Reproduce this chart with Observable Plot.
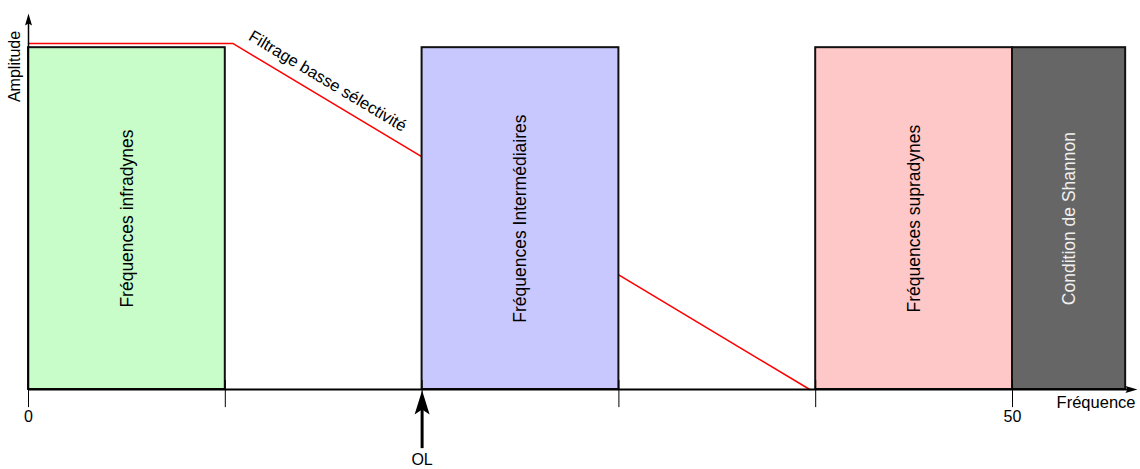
<!DOCTYPE html>
<html>
<head>
<meta charset="utf-8">
<script src="https://cdn.jsdelivr.net/npm/d3@7"></script>
<script src="https://cdn.jsdelivr.net/npm/@observablehq/plot@0.6"></script>
<style>
  html, body { margin: 0; padding: 0; background: #fff; }
  svg { font-family: "Liberation Sans", Arial, sans-serif; }
</style>
</head>
<body>
<div id="chart"></div>
<script>
// ---- data ----
const bandLabels = ["Fréquences infradynes", "Fréquences Intermédiaires", "Fréquences supradynes", "Condition de Shannon"];
const bandStart = [0, 20, 40, 50];
const bandEnd = [10, 30, 50, 55.75];
const bandAmplitude = [100, 100, 100, 100];

const filterFreq = [0, 10.4, 39.7];
const filterAmp = [101.2, 101.2, 0];
const filterLabel = "Filtrage basse sélectivité";
const filterLabelFreq = 15.2;

const tickValues = [0, 10, 20, 30, 40, 50];
const tickLabelValues = [0, 50];
const oscillatorFreq = [20];
const oscillatorLabel = ["OL"];
const xAxisEnd = 56.35;
const yAxisEnd = 110;

// ---- derived tables ----
const bands = bandLabels.map((label, i) => ({label, x1: bandStart[i], x2: bandEnd[i], y: bandAmplitude[i]}));
const filter = filterFreq.map((x, i) => ({x, y: filterAmp[i]}));
const interp = (x) => {
  for (let i = 1; i < filter.length; i++) {
    const a = filter[i - 1], b = filter[i];
    if (x <= b.x) return a.y + (b.y - a.y) * (x - a.x) / (b.x - a.x);
  }
  return filter[filter.length - 1].y;
};
const slope = filter[2], slopeStart = filter[1];
const angle = Math.atan2((slopeStart.y - slope.y) * 3.418, (slope.x - slopeStart.x) * 19.68) * 180 / Math.PI;

const bandColor = d3.scaleOrdinal(bandLabels, ["#c8fcc8", "#c8c8ff", "#ffc8c8", "#666666"]);
const bandText = d3.scaleOrdinal(bandLabels, ["#000", "#000", "#000", "#f0f0f0"]);

// arrowhead symbols (tip at the anchor point)
const headUp = (len, w, notch) => ({draw(ctx) {
  ctx.moveTo(0, 0); ctx.lineTo(w / 2, len); ctx.lineTo(0, len - notch); ctx.lineTo(-w / 2, len); ctx.closePath();
}});
const headRight = (len, w, notch) => ({draw(ctx) {
  ctx.moveTo(0, 0); ctx.lineTo(-len, w / 2); ctx.lineTo(-len + notch, 0); ctx.lineTo(-len, -w / 2); ctx.closePath();
}});

const chart = Plot.plot({
  width: 1140,
  height: 469,
  marginLeft: 28,
  marginRight: 128,
  marginTop: 13,
  marginBottom: 80,
  x: {domain: [0, 50], axis: null},
  y: {domain: [0, yAxisEnd], axis: null},
  style: {fontFamily: "'Liberation Sans', Arial, sans-serif", background: "white"},
  marks: [
    // filter response
    Plot.line(filter, {x: "x", y: "y", stroke: "#ff0000", strokeWidth: 1.5}),
    Plot.text([filterLabel], {x: filterLabelFreq, y: interp(filterLabelFreq), text: d => d, rotate: angle, dy: -19, fontSize: 16.5, fill: "#000"}),
    // bands
    Plot.rectY(bands, {x1: "x1", x2: "x2", y1: 0, y2: "y", fill: d => bandColor(d.label), stroke: "#111", strokeWidth: 2}),
    Plot.text(bands, {x: d => (d.x1 + d.x2) / 2, y: d => d.y / 2, text: "label", rotate: -90, fontSize: 17.5, fill: d => bandText(d.label)}),
    // x axis
    Plot.ruleY([0], {x1: 0, x2: xAxisEnd - 0.3, stroke: "#000", strokeWidth: 2}),
    Plot.dot([xAxisEnd], {x: d => d, y: 0, symbol: headRight(12, 7, 2), fill: "#000", stroke: "none", r: 1}),
    Plot.ruleX(tickValues, {x: d => d, y1: -5.3, y2: 2.6, stroke: "#000", strokeWidth: 1}),
    Plot.text(tickLabelValues, {x: d => d, y: 0, dy: 27, text: d => String(d), fontSize: 16, fill: "#000"}),
    Plot.text(["Fréquence"], {x: xAxisEnd - 0.1, y: 0, dy: 13, text: d => d, textAnchor: "end", fontSize: 16.5, fill: "#000"}),
    // y axis
    Plot.ruleX([0], {y1: 0, y2: yAxisEnd - 1.5, stroke: "#000", strokeWidth: 1.5}),
    Plot.dot([yAxisEnd], {x: 0, y: d => d, symbol: headUp(12, 7, 2), fill: "#000", stroke: "none", r: 1}),
    Plot.text(["Amplitude"], {x: 0, y: 94.5, dx: -14, text: d => d, rotate: -90, fontSize: 16, fill: "#000"}),
    // local oscillator
    Plot.ruleX(oscillatorFreq, {x: d => d, y1: -17.3, y2: -4, stroke: "#000", strokeWidth: 3}),
    Plot.dot(oscillatorFreq, {x: d => d, y: -0.3, symbol: headUp(24, 15, 5), fill: "#000", stroke: "none", r: 1}),
    Plot.text(oscillatorLabel, {x: (d, i) => oscillatorFreq[i], y: 0, dy: 70, text: d => d, fontSize: 16, fill: "#000"})
  ]
});
document.getElementById("chart").appendChild(chart);
</script>
</body>
</html>
